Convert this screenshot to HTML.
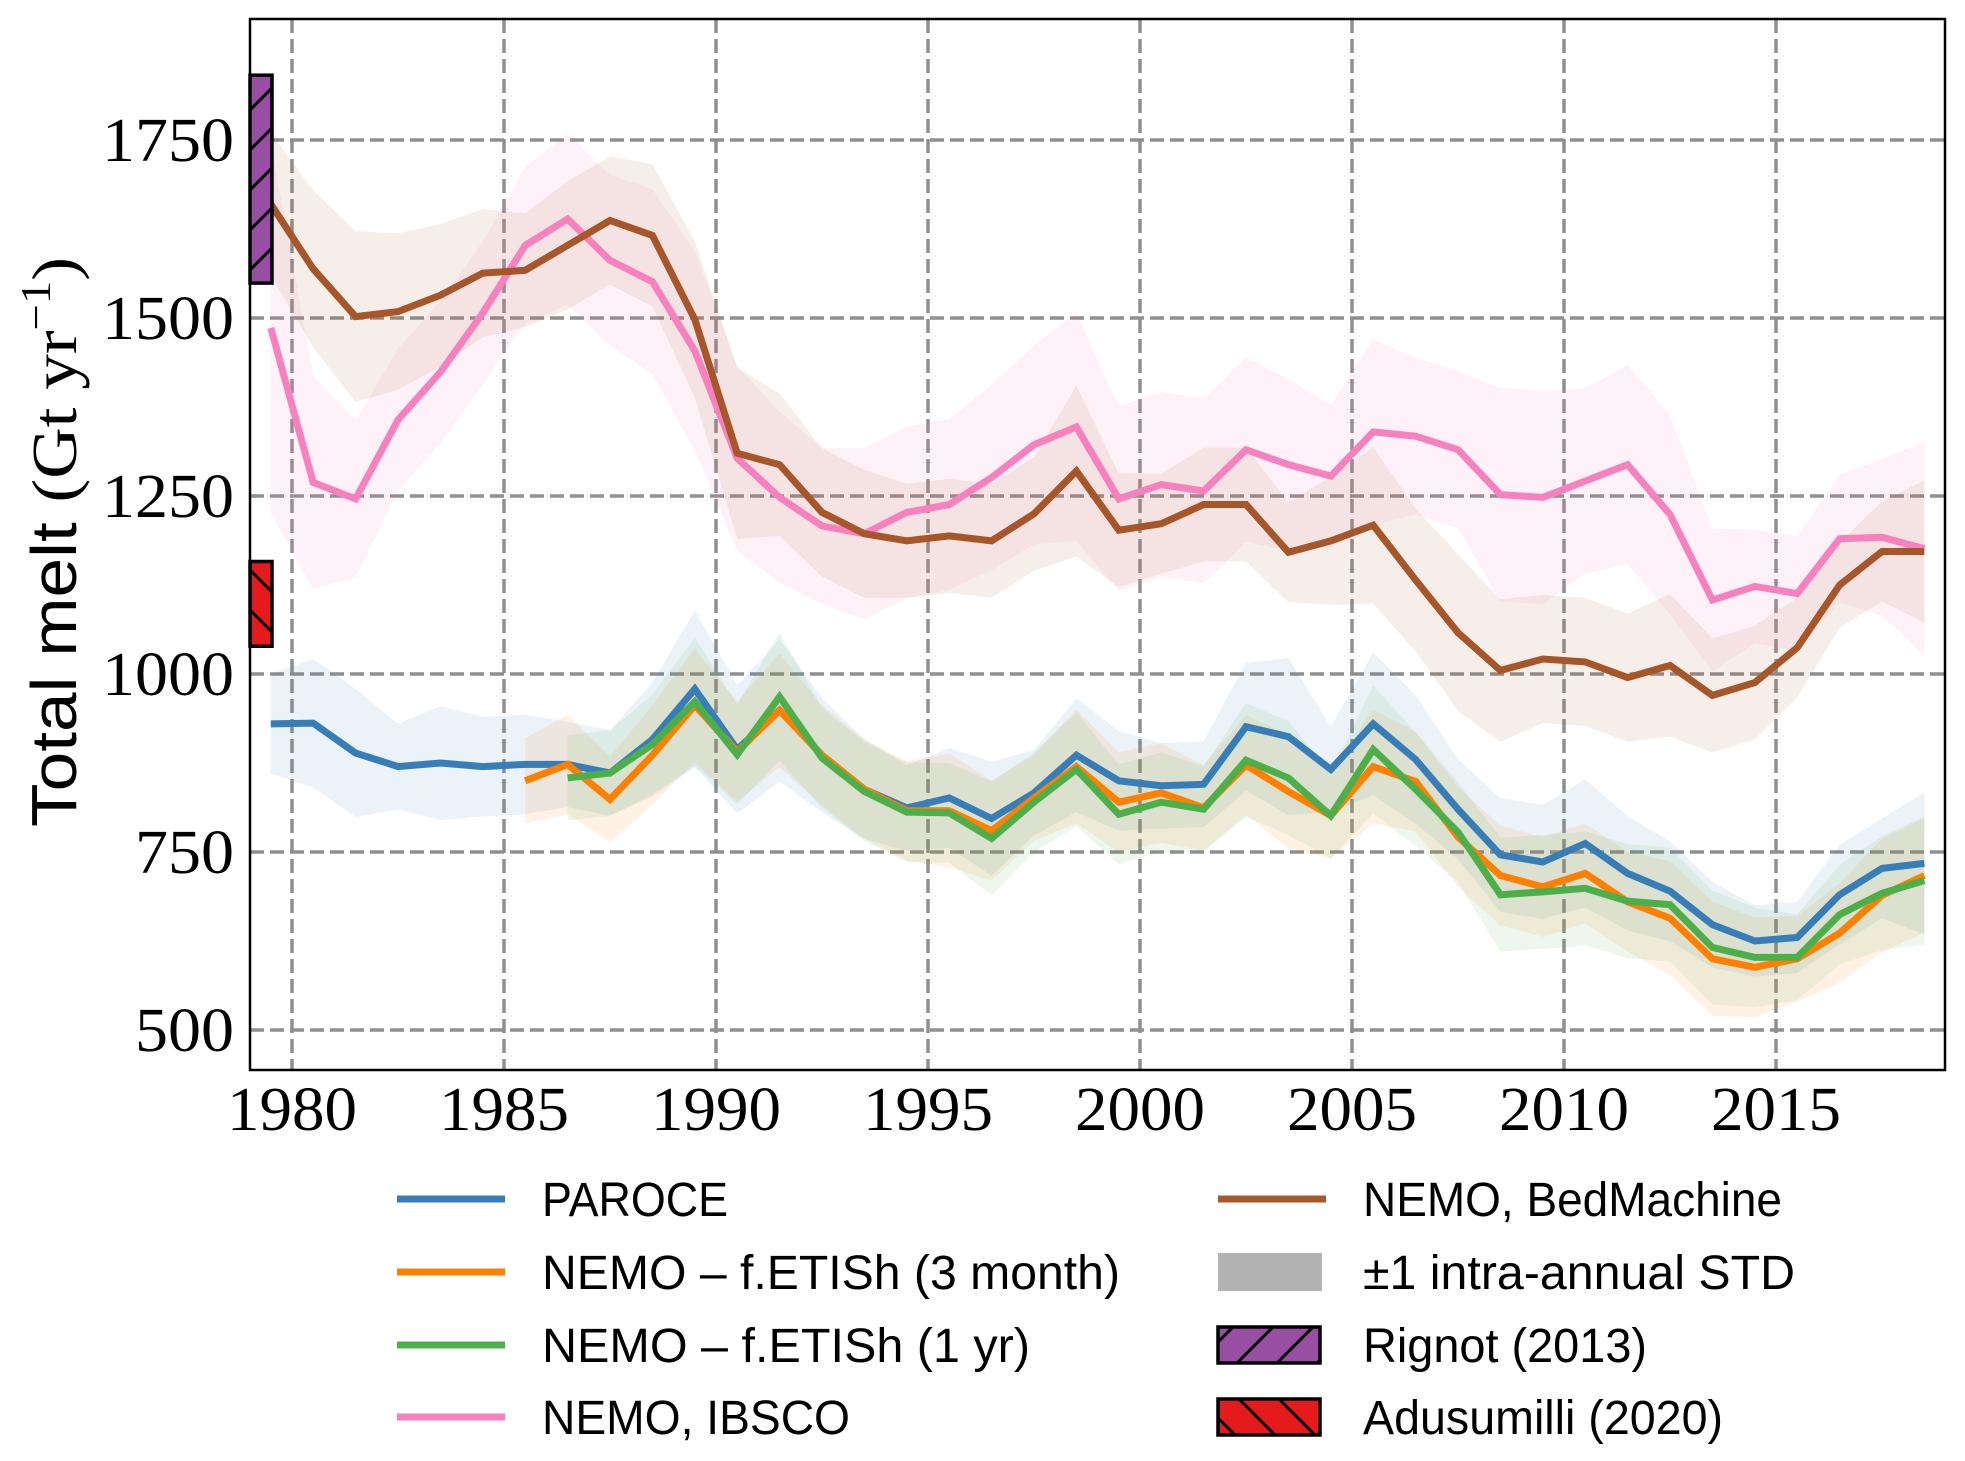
<!DOCTYPE html>
<html><head><meta charset="utf-8"><style>
html,body{margin:0;padding:0;background:#fff;}
svg{display:block;}
</style></head><body>
<svg id="chart" width="1965" height="1461" viewBox="0 0 1965 1461" xmlns="http://www.w3.org/2000/svg">
<defs>
<pattern id="hatchF" patternUnits="userSpaceOnUse" width="40" height="40"><path d="M-10,10 L10,-10 M0,40 L40,0 M30,50 L50,30" stroke="#000" stroke-width="3"/></pattern>
<pattern id="hatchB" patternUnits="userSpaceOnUse" width="40" height="40"><path d="M-10,30 L10,50 M0,0 L40,40 M30,-10 L50,10" stroke="#000" stroke-width="3"/></pattern>
<clipPath id="plotclip"><rect x="250" y="19" width="1695" height="1051"/></clipPath>
</defs>
<g id="grid"></g>
<g id="bands" clip-path="url(#plotclip)"></g>
<g id="lines" clip-path="url(#plotclip)"></g>
<g id="obs"></g>
<rect x="250" y="19" width="1695" height="1051" fill="none" stroke="#000" stroke-width="2.5"/>
<g id="ticks"></g>
<text transform="translate(76,542) rotate(-90)" text-anchor="middle" font-family="Liberation Sans, sans-serif" font-size="64" fill="#000" textLength="570" lengthAdjust="spacingAndGlyphs">Total melt <tspan font-family="Liberation Serif, serif">(Gt yr</tspan><tspan font-family="Liberation Serif, serif" font-size="42" dy="-26">−1</tspan><tspan font-family="Liberation Serif, serif" dy="26">)</tspan></text>
<g id="legend"></g>
</svg>
<script>
const years = [];
for (let i = 0; i < 40; i++) years.push(1979.5 + i);
const bedmachine = [1660,1569,1502,1509,1532,1563,1567,1602,1637,1616,1498,1310,1294,1227,1197,1187,1194,1187,1225,1285,1202,1211,1238,1238,1171,1187,1209,1132,1058,1005,1021,1017,995,1012,970,988,1037,1125,1172,1172];
const bedmachineStd = [100,110,120,110,100,90,80,90,90,100,110,120,100,90,90,80,80,80,80,120,80,70,80,80,70,90,110,100,110,100,90,90,90,100,80,80,70,60,70,100];
const ibsco = [1486,1269,1246,1357,1424,1507,1602,1639,1581,1551,1454,1303,1248,1208,1197,1227,1238,1276,1322,1347,1246,1266,1257,1315,1294,1278,1340,1334,1315,1252,1248,1271,1294,1224,1104,1123,1113,1190,1192,1176];
const ibscoStd = [260,150,110,100,100,100,110,120,120,130,140,130,120,110,120,120,120,130,140,160,130,130,130,130,120,100,130,110,110,150,150,130,140,140,100,80,80,90,110,150];
const paroce = [930,931,889,870,875,870,873,873,861,908,979,894,949,886,838,812,826,797,833,886,850,843,845,926,912,866,930,880,810,746,736,762,720,695,648,625,630,690,727,734];
const paroceStd = [70,90,90,60,80,70,70,60,60,80,110,90,100,80,70,60,70,80,60,80,70,60,60,90,110,60,100,90,70,80,80,90,80,70,60,50,50,70,70,100];
const yearsOrange = years.slice(6);
const fetish3m = [850,873,824,886,956,891,949,886,838,808,808,780,826,870,820,833,812,872,835,801,870,849,771,717,701,720,680,657,600,588,600,636,689,717];
const fetish3mStd = [60,70,60,70,80,70,80,70,70,70,80,70,60,80,70,70,60,70,80,60,80,70,70,70,70,70,70,80,80,70,60,70,80,80];
const yearsGreen = years.slice(7);
const fetish1y = [854,861,901,961,887,968,882,835,806,805,769,820,866,803,820,810,879,854,801,894,838,778,690,694,699,681,676,616,602,602,662,692,710];
const fetish1yStd = [60,60,70,90,70,90,70,70,70,70,80,70,80,70,70,60,80,80,60,90,80,70,80,80,80,80,80,80,70,60,70,80,90];
const yTicks = [500,750,1000,1250,1500,1750];
const xTicks = [1980,1985,1990,1995,2000,2005,2010,2015];
const rignot = [1549,1841];
const adusumilli = [1039,1158];

const NS = "http://www.w3.org/2000/svg";
const X0 = 292, XPY = 42.4;
const xs = v => X0 + (v - 1980) * XPY;
const ys = v => 318 + (1500 - v) * (178 / 250);
function mk(tag, attrs, parent) {
  const e = document.createElementNS(NS, tag);
  for (const k in attrs) e.setAttribute(k, attrs[k]);
  parent.appendChild(e);
  return e;
}
const grid = document.getElementById('grid');
const ticks = document.getElementById('ticks');
yTicks.forEach(t => {
  const l = mk('line', {x1: 250, x2: 1945, y1: ys(t), y2: ys(t), stroke: '#8f8f8f', 'stroke-width': 3.5, 'stroke-dasharray': '14,6'}, grid);
  
  
  const tx = mk('text', {x: 234, y: ys(t) + 21, 'text-anchor': 'end', 'font-family': 'Liberation Serif, serif', 'font-size': 62, textLength: t >= 1000 ? 132 : 99, lengthAdjust: 'spacingAndGlyphs'}, ticks);
  tx.textContent = t;
  
  
});
xTicks.forEach(t => {
  const l = mk('line', {x1: xs(t), x2: xs(t), y1: 19, y2: 1070, stroke: '#8f8f8f', 'stroke-width': 3.5, 'stroke-dasharray': '14,6'}, grid);
  
  
  const tx = mk('text', {x: xs(t), y: 1130, 'text-anchor': 'middle', 'font-family': 'Liberation Serif, serif', 'font-size': 62, textLength: 130, lengthAdjust: 'spacingAndGlyphs'}, ticks);
  tx.textContent = t;
  
  
});
const bands = document.getElementById('bands');
const lines = document.getElementById('lines');
function band(xv, v, s, color, name) {
  let d = '';
  xv.forEach((x, i) => d += (i ? 'L' : 'M') + xs(x) + ',' + ys(v[i] + s[i]));
  for (let i = xv.length - 1; i >= 0; i--) d += 'L' + xs(xv[i]) + ',' + ys(v[i] - s[i]);
  const p = mk('path', {d: d + 'Z', fill: color, 'fill-opacity': 0.1}, bands);
  
  
}
function line(xv, v, color, name) {
  const pts = xv.map((x, i) => xs(x) + ',' + ys(v[i])).join(' ');
  const p = mk('polyline', {points: pts, fill: 'none', stroke: color, 'stroke-width': 7, 'stroke-linejoin': 'miter'}, lines);
  
  
}
band(years, ibsco, ibscoStd, '#f781bf', 'ibsco-band');
band(years, bedmachine, bedmachineStd, '#a65628', 'bedmachine-band');
band(years, paroce, paroceStd, '#377eb8', 'paroce-band');
band(yearsOrange, fetish3m, fetish3mStd, '#ff7f00', 'fetish-3month-band');
band(yearsGreen, fetish1y, fetish1yStd, '#4daf4a', 'fetish-1yr-band');
line(years, ibsco, '#f781bf', 'ibsco-line');
line(years, bedmachine, '#a65628', 'bedmachine-line');
line(years, paroce, '#377eb8', 'paroce-line');
line(yearsOrange, fetish3m, '#ff7f00', 'fetish-3month-line');
line(yearsGreen, fetish1y, '#4daf4a', 'fetish-1yr-line');

const obs = document.getElementById('obs');
function obsBar(r, color, pat, name) {
  const y1 = ys(r[1]), y0 = ys(r[0]);
  const a = mk('rect', {x: 250, y: y1, width: 22, height: y0 - y1, fill: color}, obs);
  
  
  const b = mk('rect', {x: 250, y: y1, width: 22, height: y0 - y1, fill: 'url(#' + pat + ')', stroke: '#000', 'stroke-width': 3.5}, obs);
  
  
}
obsBar(rignot, '#984ea3', 'hatchF', 'rignot-2013-bar');
obsBar(adusumilli, '#e41a1c', 'hatchB', 'adusumilli-2020-bar');

const legend = document.getElementById('legend');
const legItems = [
  {x: 397, y: 1199, type: 'line', c: '#377eb8', t: 'PAROCE', w: 186, n: 'legend-paroce'},
  {x: 397, y: 1272, type: 'line', c: '#ff7f00', t: 'NEMO – f.ETISh (3 month)', w: 578, n: 'legend-fetish-3month'},
  {x: 397, y: 1345, type: 'line', c: '#4daf4a', t: 'NEMO – f.ETISh (1 yr)', w: 488, n: 'legend-fetish-1yr'},
  {x: 397, y: 1417, type: 'line', c: '#f781bf', t: 'NEMO, IBSCO', w: 308, n: 'legend-ibsco'},
  {x: 1218, y: 1199, type: 'line', c: '#a65628', t: 'NEMO, BedMachine', w: 419, n: 'legend-bedmachine'},
  {x: 1218, y: 1272, type: 'rect', c: '#b3b3b3', t: '±1 intra-annual STD', w: 432, n: 'legend-std'},
  {x: 1218, y: 1345, type: 'hatch', c: '#984ea3', p: 'hatchF', t: 'Rignot (2013)', w: 284, n: 'legend-rignot'},
  {x: 1218, y: 1417, type: 'hatch', c: '#e41a1c', p: 'hatchB', t: 'Adusumilli (2020)', w: 360, n: 'legend-adusumilli'}
];
legItems.forEach(it => {
  const g = mk('g', {}, legend);
  
  
  if (it.type === 'line') mk('line', {x1: it.x, x2: it.x + 108, y1: it.y, y2: it.y, stroke: it.c, 'stroke-width': 7}, g);
  else if (it.type === 'rect') mk('rect', {x: it.x, y: it.y - 19, width: 104, height: 38, fill: it.c}, g);
  else {
    mk('rect', {x: it.x, y: it.y - 18, width: 102, height: 36, fill: it.c}, g);
    mk('rect', {x: it.x, y: it.y - 18, width: 102, height: 36, fill: 'url(#' + it.p + ')', stroke: '#000', 'stroke-width': 3.5}, g);
  }
  const tx = mk('text', {x: it.x + 145, y: it.y + 17, 'font-family': 'Liberation Sans, sans-serif', 'font-size': 48, textLength: it.w, lengthAdjust: 'spacingAndGlyphs'}, g);
  tx.textContent = it.t;
});
</script>
</body></html>
